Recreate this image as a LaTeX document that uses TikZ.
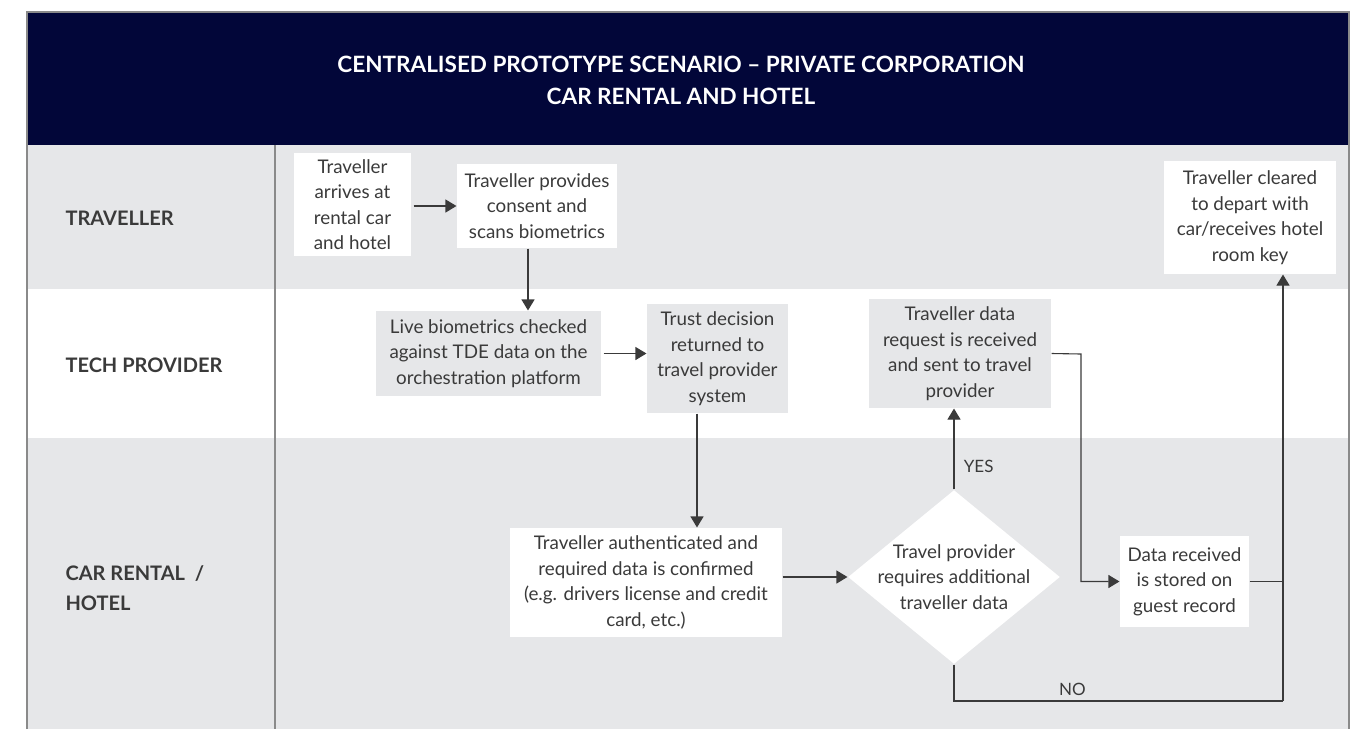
\documentclass[tikz,border=0pt]{standalone}
\usepackage{fontspec}
\setmainfont{Lato}
\usetikzlibrary{arrows.meta,shapes.geometric}

\definecolor{navy}{HTML}{020639}
\definecolor{lanegray}{HTML}{E6E7E9}
\definecolor{ink}{HTML}{3A3A3A}
\definecolor{rulegray}{HTML}{8A8A8A}

\begin{document}
\begin{tikzpicture}[x=1pt,y=-1pt,>={Triangle[length=11pt,width=13pt]},line width=1.1pt,
    font=\fontsize{18.8}{25.5}\selectfont]
  \tikzstyle{whitebox}=[fill=white,text=ink,align=center,inner sep=0pt]
  \tikzstyle{graybox}=[whitebox,fill=lanegray]
  \tikzstyle{lanelabel}=[anchor=west,align=left,text=ink,inner sep=0pt,font=\fontsize{20}{30}\selectfont\bfseries]
  \tikzstyle{flow}=[draw=ink,->]
  \useasboundingbox (0,0) rectangle (1361,729);

  % swimlanes and header
  \fill[lanegray] (27,145) rectangle (1349,289);
  \fill[lanegray] (27,438) rectangle (1349,729);
  \fill[navy] (27,12) rectangle (1349,145);
  \draw[rulegray] (27,729) -- (27,12) -- (1349,12) -- (1349,729);
  \draw[rulegray] (275,145) -- (275,729);

  \node[text=white,align=center,font=\fontsize{22.5}{32}\selectfont\bfseries] (title) at (681,80)
    {CENTRALISED PROTOTYPE SCENARIO -- PRIVATE CORPORATION\\CAR RENTAL AND HOTEL};

  \node[lanelabel] (lanetrav) at (65,218) {TRAVELLER};
  \node[lanelabel] (lanetech) at (65,365) {TECH PROVIDER};
  \node[lanelabel] (lanecar)  at (65,588) {CAR RENTAL\ \ /\\HOTEL};

  % steps
  \node[whitebox,minimum width=117pt,minimum height=103pt] (arrive) at (352.5,204.5)
    {Traveller\\arrives at\\rental car\\and hotel};
  \node[whitebox,minimum width=160pt,minimum height=84pt] (consent) at (537,206)
    {Traveller provides\\consent and\\scans biometrics};
  \node[graybox,minimum width=225pt,minimum height=85pt] (live) at (488.5,353.5)
    {Live biometrics checked\\against TDE data on the\\orchestration platform};
  \node[graybox,minimum width=141pt,minimum height=109pt] (trust) at (717.5,358.5)
    {Trust decision\\returned to\\travel provider\\system};
  \node[whitebox,minimum width=272pt,minimum height=109pt] (auth) at (646,582.5)
    {Traveller authenticated and\\required data is confirmed\\(e.g. drivers license and credit\\card, etc.)};
  \node[diamond,fill=white,minimum width=212pt,minimum height=174pt,inner sep=0pt] (decide) at (954,577) {};
  \node[text=ink,align=center] (decidetext) at (decide) {Travel provider\\requires additional\\traveller data};
  \node[graybox,minimum width=182pt,minimum height=109pt] (request) at (960,353.5)
    {Traveller data\\request is received\\and sent to travel\\provider};
  \node[whitebox,minimum width=129pt,minimum height=91pt] (data) at (1184.5,581.5)
    {Data received\\is stored on\\guest record};
  \node[whitebox,minimum width=172pt,minimum height=113pt] (cleared) at (1250,217.5)
    {Traveller cleared\\to depart with\\car/receives hotel\\room key};

  \coordinate (reqbend) at (1081,354);
  \coordinate (nojoin) at (1283,701);

  % connectors
  \draw[flow,shorten <=2pt] (arrive.east |- consent.west) -- (consent.west);
  \draw[flow] ([xshift=-9pt]consent.south) -- ([xshift=-9pt]consent.south |- live.north);
  \draw[flow,shorten <=2pt] (live.east) -- (live.east -| trust.west);
  \draw[flow] ([xshift=-20.5pt]trust.south) -- ([xshift=-20.5pt]trust.south |- auth.north);
  \draw[flow] (auth.east |- decide.west) -- (decide.west);
  \draw[flow] (decide.north) -- node[pos=0.28,right=6pt,text=ink,font=\fontsize{17}{20}\selectfont] (yes) {YES} (decide.north |- request.south);
  \draw[flow] (request.east) -- (reqbend) |- (data.west);
  \draw[draw=ink] (decide.south) |- node[pos=0.68,above=1pt,text=ink,font=\fontsize{17}{20}\selectfont] (no) {NO} (nojoin);
  \draw[draw=ink] (data.east) -- (data.east -| nojoin);
  \draw[flow] (nojoin) -- (nojoin |- cleared.south);
\end{tikzpicture}
\end{document}
